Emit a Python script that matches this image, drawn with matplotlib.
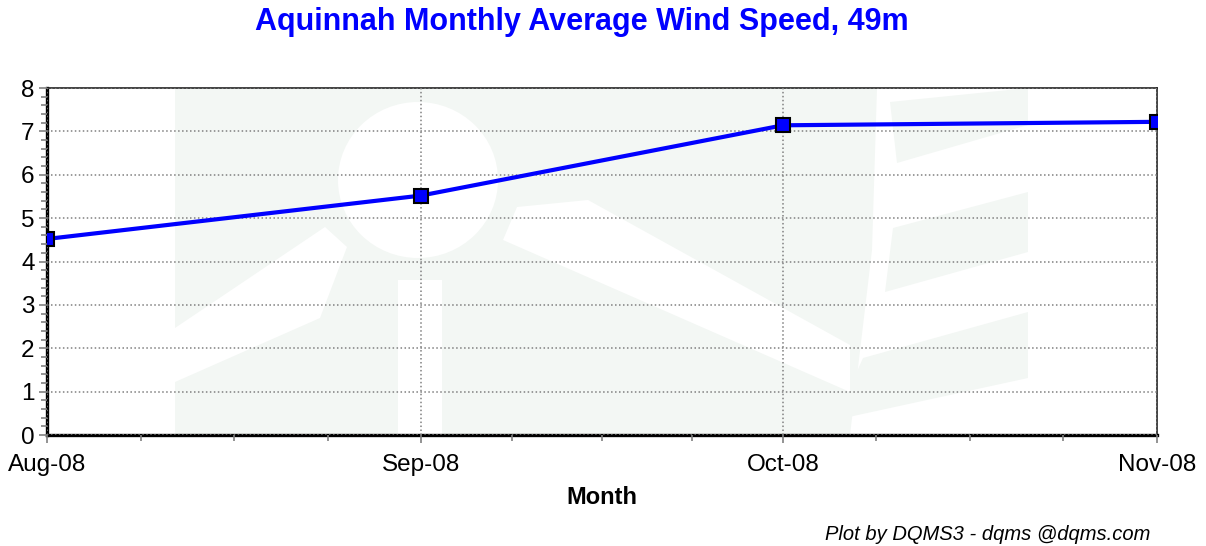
import matplotlib
matplotlib.use('Agg')
import matplotlib.pyplot as plt
import matplotlib.dates as mdates
from matplotlib.patches import Polygon, Ellipse, Rectangle
from matplotlib.ticker import MultipleLocator, FixedLocator
import datetime

plt.rcParams['font.family'] = ['Liberation Sans', 'DejaVu Sans']

# data
months = [datetime.date(2008, 8, 1), datetime.date(2008, 9, 1),
          datetime.date(2008, 10, 1), datetime.date(2008, 11, 1)]
speed = [4.52, 5.52, 7.14, 7.22]
title = 'Aquinnah Monthly Average Wind Speed, 49m'
xlabel = 'Month'
footer = 'Plot by DQMS3 - dqms @dqms.com'

W, H = 1206, 546
fig = plt.figure(figsize=(W / 100, H / 100), dpi=100)
L, R, T, B = 47, 1157, 88, 435
ax = fig.add_axes([L / W, (H - B) / H, (R - L) / W, (B - T) / H])


def px(x, y):
    # pixel position -> axes fraction (watermark only)
    return ((x - L) / (R - L), (B - y) / (B - T))


# faint logo watermark behind the plot
wm = '#f3f7f4'
ax.add_patch(Polygon([px(175, 88), px(877, 88), px(872, 250), px(850, 435), px(175, 435)],
                     closed=True, transform=ax.transAxes, fc=wm, ec='none', zorder=0))
for pts in [[(890, 102), (1028, 88), (1028, 125), (897, 163)],
            [(893, 228), (1028, 192), (1028, 252), (885, 292)],
            [(863, 358), (1028, 312), (1028, 378), (835, 420)]]:
    ax.add_patch(Polygon([px(*p) for p in pts], closed=True, transform=ax.transAxes,
                         fc=wm, ec='none', zorder=0))
cx, cy = px(418, 180)
ax.add_patch(Ellipse((cx, cy), 160 / (R - L), 156 / (B - T), transform=ax.transAxes,
                     fc='white', ec='none', zorder=0.1))
x0, y0 = px(398, 435)
x1, y1 = px(442, 280)
ax.add_patch(Rectangle((x0, y0), x1 - x0, y1 - y0, transform=ax.transAxes,
                       fc='white', ec='none', zorder=0.1))
for pts in [[(175, 328), (325, 227), (347, 247), (320, 318), (175, 382)],
            [(503, 240), (517, 207), (588, 200), (850, 345), (850, 392)]]:
    ax.add_patch(Polygon([px(*p) for p in pts], closed=True, transform=ax.transAxes,
                         fc='white', ec='none', zorder=0.1))

xd = mdates.date2num(months)
ax.plot(xd, speed, color='#0000ff', lw=3, marker='s', ms=10, mfc='#0000ff',
        mec='black', mew=1.5, zorder=5)

ax.set_xlim(xd[0], xd[-1])
ax.set_ylim(0, 8)

ax.xaxis.set_major_locator(FixedLocator(xd))
ax.xaxis.set_major_formatter(mdates.DateFormatter('%b-%y'))
minor = []
for a, b in zip(xd[:-1], xd[1:]):
    minor += [a + (b - a) * k / 4 for k in (1, 2, 3)]
ax.xaxis.set_minor_locator(FixedLocator(minor))
ax.yaxis.set_major_locator(MultipleLocator(1))
ax.yaxis.set_minor_locator(MultipleLocator(0.2))

ax.tick_params(axis='both', which='major', direction='out', length=6, width=1.2,
               color='#808080', labelsize=17.5, labelcolor='black')
ax.tick_params(axis='both', which='minor', direction='out', length=4, width=1.2,
               color='#808080')
ax.tick_params(axis='x', pad=8)
ax.tick_params(axis='y', pad=3)

ax.grid(True, which='major', color='#808080', lw=1.1, ls=(0, (1, 1.6)), zorder=1)
ax.set_axisbelow(False)

for s in ['left', 'bottom']:
    ax.spines[s].set_linewidth(2.4)
    ax.spines[s].set_color('black')
for s in ['top', 'right']:
    ax.spines[s].set_linewidth(1.2)
    ax.spines[s].set_color('#222222')

fig.text(582 / W, 1 - 22 / H, title, ha='center', va='center', color='#0000ff',
         fontsize=22, fontweight='bold')
ax.set_xlabel(xlabel, fontsize=17, fontweight='bold', labelpad=7)
fig.text(1150 / W, 1 - 534 / H, footer, ha='right', va='center', fontsize=14.5,
         fontstyle='italic')

fig.savefig('out.png', dpi=100)
